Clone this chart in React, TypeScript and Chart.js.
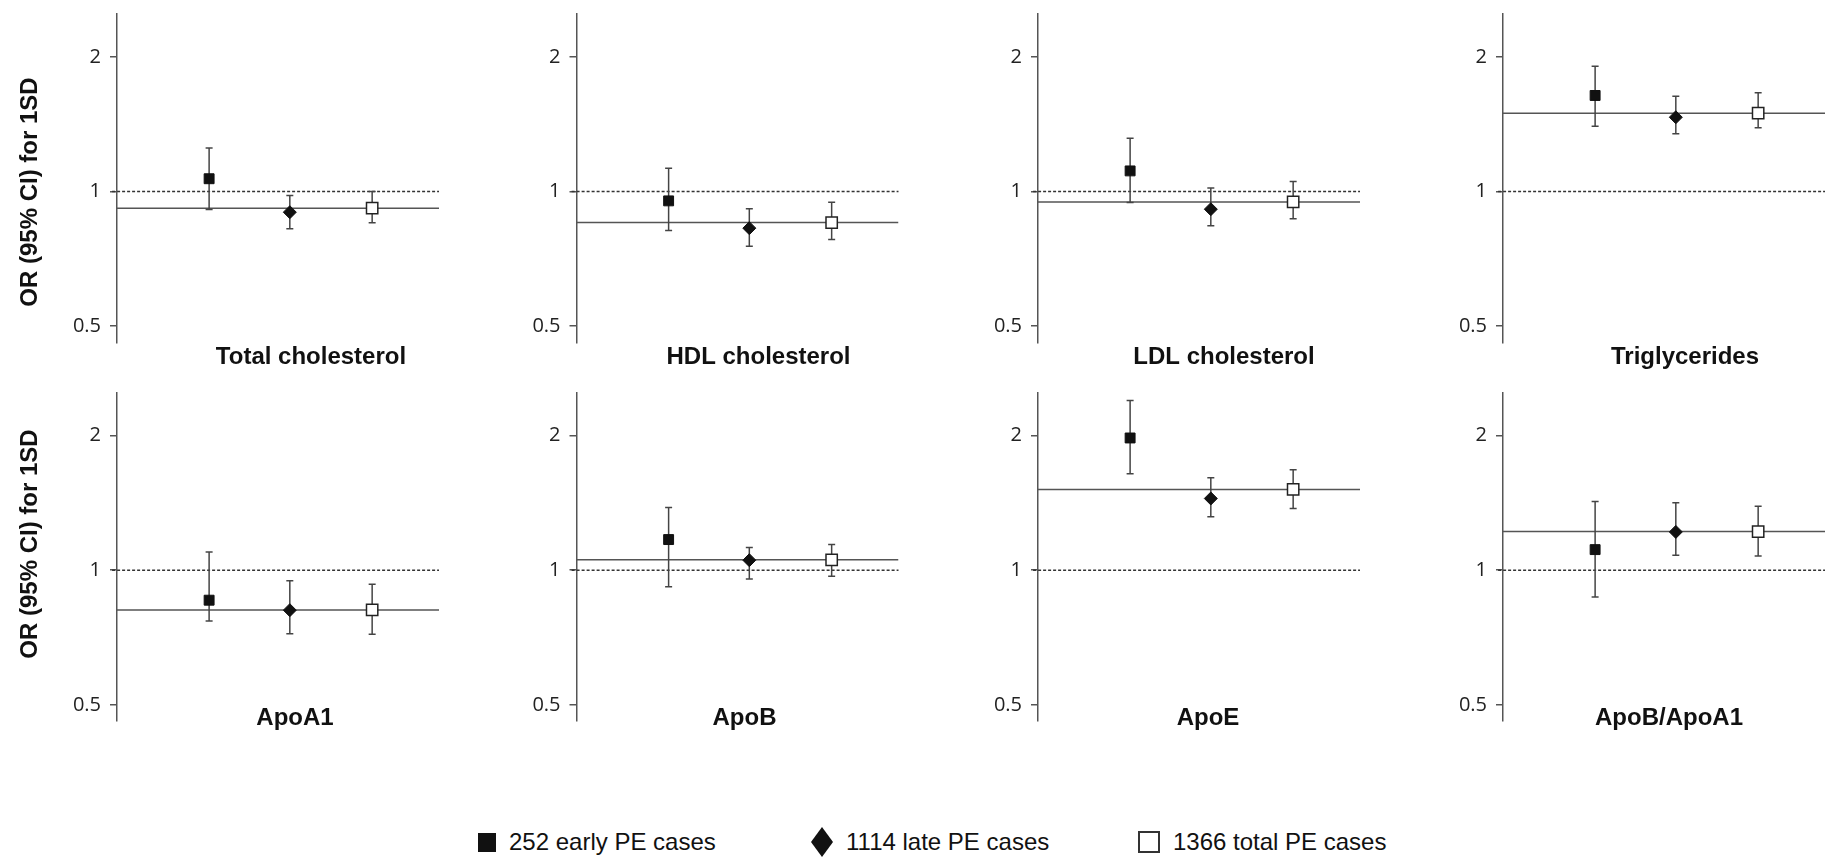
import React, { useEffect, useRef } from 'react';
import { Chart, registerables } from 'chart.js';

Chart.register(...registerables);

// ---------------- data ----------------
const panelTitles = [
  'Total cholesterol',
  'HDL cholesterol',
  'LDL cholesterol',
  'Triglycerides',
  'ApoA1',
  'ApoB',
  'ApoE',
  'ApoB/ApoA1',
];
const seriesNames = ['252 early PE cases', '1114 late PE cases', '1366 total PE cases'];
const yAxisLabel = 'OR (95% CI) for 1SD';
const yTickValues = [0.5, 1, 2];
const xPositions = [1.13, 2.12, 3.13];
const referenceOR = 1;

const earlyOR = [1.068, 0.953, 1.112, 1.64, 0.857, 1.171, 1.976, 1.112];
const earlyLow = [0.911, 0.818, 0.945, 1.4, 0.77, 0.918, 1.643, 0.871];
const earlyHigh = [1.251, 1.128, 1.316, 1.907, 1.099, 1.381, 2.398, 1.425];

const lateOR = [0.899, 0.828, 0.913, 1.466, 0.814, 1.053, 1.447, 1.218];
const lateLow = [0.825, 0.754, 0.838, 1.346, 0.721, 0.956, 1.317, 1.08];
const lateHigh = [0.98, 0.915, 1.018, 1.634, 0.947, 1.124, 1.609, 1.415];

const totalOR = [0.918, 0.852, 0.948, 1.497, 0.815, 1.055, 1.516, 1.22];
const totalLow = [0.851, 0.781, 0.869, 1.389, 0.719, 0.97, 1.375, 1.076];
const totalHigh = [1.0, 0.946, 1.053, 1.663, 0.93, 1.141, 1.677, 1.391];

// ---------------- layout ----------------
const Y_MIN = 0.46;
const Y_MAX = 2.5;
const X_MIN = 0;
const X_MAX = 3.95;
const AXIS_X = [117, 576.5, 1038, 1503];
const AREA_TOP = [13.6, 392.3];
const AREA_H = 328.7;
const AREA_W = 322;
const LEFT_SPACE = 110;
const TOP_SPACE = 30;
const Y_AXIS_W = 60;
const CANVAS_W = 442;
const CANVAS_H = 401;
const TITLE_DX = [194, 182, 186, 182, 178, 168, 170, 166];
const TITLE_DY = [15, -3];
const YLABEL_CX = 30;
const YLABEL_CY = [192, 544];

const TEXT_FONT = '"Liberation Sans", Arial, Helvetica, sans-serif';
const TICK_FONT = '"Open Sans", "Noto Sans", sans-serif';

function geom(i: number) {
  const row = Math.floor(i / 4);
  const col = i % 4;
  const axisX = AXIS_X[col];
  const areaTop = AREA_TOP[row];
  const left = Math.floor(axisX - LEFT_SPACE);
  const top = Math.floor(areaTop - TOP_SPACE);
  const padLeft = axisX - left - Y_AXIS_W;
  const padTop = areaTop - top;
  const padRight = CANVAS_W - (axisX - left) - AREA_W;
  const padBottom = CANVAS_H - padTop - AREA_H;
  return { row, col, left, top, padLeft, padTop, padRight, padBottom };
}

const panelTextPlugin = {
  id: 'panelText',
  afterDraw(chart: any, _args: any, opts: any) {
    const { ctx, chartArea } = chart;
    ctx.save();
    ctx.fillStyle = '#111';
    ctx.font = 'bold 24px ' + TEXT_FONT;
    ctx.textAlign = 'center';
    ctx.textBaseline = 'middle';
    ctx.fillText(opts.title, chartArea.left + opts.titleDx, chartArea.bottom + opts.titleDy);
    if (opts.yLabel) {
      ctx.translate(opts.yLabelX, opts.yLabelY);
      ctx.rotate(-Math.PI / 2);
      ctx.fillText(opts.yLabel, 0, 0);
    }
    ctx.restore();
  },
};

function buildConfig(i: number) {
  const g = geom(i);
  const ors = [earlyOR[i], lateOR[i], totalOR[i]];
  const lows = [earlyLow[i], lateLow[i], totalLow[i]];
  const highs = [earlyHigh[i], lateHigh[i], totalHigh[i]];
  const whiskers: any[] = [];
  xPositions.forEach((x, s) => {
    whiskers.push({ x, y: lows[s] }, { x, y: highs[s] }, { x, y: null });
  });
  const pointStyles = ['rect', 'rectRot', 'rect'];
  const radii = [7, 6.5, 8];
  const fills = ['#111', '#111', '#fff'];
  const borders = ['#111', '#111', '#222'];
  const borderWidths = [1, 1, 1.5];
  const markerSets = seriesNames.map((name, s) => ({
    label: name,
    data: [{ x: xPositions[s], y: ors[s] }],
    showLine: false,
    pointStyle: pointStyles[s],
    pointRadius: radii[s],
    pointBackgroundColor: fills[s],
    pointBorderColor: borders[s],
    pointBorderWidth: borderWidths[s],
    order: 0,
  }));
  return {
    type: 'line',
    data: {
      datasets: [
        {
          label: 'reference',
          data: [
            { x: X_MIN - 0.06, y: referenceOR },
            { x: X_MAX, y: referenceOR },
          ],
          borderColor: '#333',
          borderWidth: 1.5,
          borderDash: [3, 2],
          pointRadius: 0,
          clip: false,
          order: 4,
        },
        {
          label: 'total line',
          data: [
            { x: X_MIN, y: totalOR[i] },
            { x: X_MAX, y: totalOR[i] },
          ],
          borderColor: '#555',
          borderWidth: 1.5,
          pointRadius: 0,
          order: 3,
        },
        {
          label: '95% CI',
          data: whiskers,
          borderColor: '#444',
          borderWidth: 1.5,
          spanGaps: false,
          pointStyle: 'line',
          pointRadius: 3.5,
          pointBorderColor: '#444',
          pointBorderWidth: 1.5,
          order: 2,
        },
        ...markerSets,
      ],
    },
    options: {
      animation: false,
      responsive: false,
      events: [],
      layout: {
        padding: { left: g.padLeft, top: g.padTop, right: g.padRight, bottom: g.padBottom },
      },
      scales: {
        x: { type: 'linear', min: X_MIN, max: X_MAX, display: false },
        y: {
          type: 'logarithmic',
          min: Y_MIN,
          max: Y_MAX,
          afterBuildTicks: (scale: any) => {
            scale.ticks = yTickValues.map((v) => ({ value: v }));
          },
          afterFit: (scale: any) => {
            scale.width = Y_AXIS_W;
          },
          ticks: {
            callback: (v: any) => String(v),
            font: { family: TICK_FONT, size: 20 },
            color: '#222',
            padding: 9,
            autoSkip: false,
          },
          grid: {
            display: true,
            drawOnChartArea: false,
            drawTicks: true,
            tickLength: 7,
            color: '#555',
            lineWidth: 1.5,
          },
          border: { display: true, color: '#555', width: 1.5 },
        },
      },
      plugins: {
        legend: { display: false },
        tooltip: { enabled: false },
        panelText: {
          title: panelTitles[i],
          titleDx: TITLE_DX[i],
          titleDy: TITLE_DY[g.row],
          yLabel: g.col === 0 ? yAxisLabel : null,
          yLabelX: YLABEL_CX - g.left,
          yLabelY: YLABEL_CY[g.row] - g.top,
        },
      },
    },
    plugins: [panelTextPlugin],
  };
}

const legendLeft = [478, 811, 1138];

function LegendMarker({ s }: { s: number }) {
  if (s === 0) {
    return <div style={{ width: 18, height: 19, background: '#111' }} />;
  }
  if (s === 1) {
    return (
      <svg width={22} height={30} style={{ display: 'block' }}>
        <polygon points="11,0 22,15 11,30 0,15" fill="#111" />
      </svg>
    );
  }
  return <div style={{ width: 18, height: 18, border: '2px solid #333', background: '#fff' }} />;
}

export default function App() {
  const refs = useRef<(HTMLCanvasElement | null)[]>([]);

  useEffect(() => {
    const charts = panelTitles.map((_, i) => {
      const canvas = refs.current[i] as HTMLCanvasElement;
      return new Chart(canvas, buildConfig(i) as any);
    });
    return () => charts.forEach((c) => c.destroy());
  }, []);

  return (
    <div
      style={{
        position: 'fixed',
        left: 0,
        top: 0,
        width: 1830,
        height: 859,
        background: '#fff',
        overflow: 'hidden',
      }}
    >
      {panelTitles.map((t, i) => {
        const g = geom(i);
        return (
          <canvas
            key={t}
            ref={(el) => {
              refs.current[i] = el;
            }}
            width={CANVAS_W}
            height={CANVAS_H}
            style={{ position: 'absolute', left: g.left, top: g.top, width: CANVAS_W, height: CANVAS_H }}
          />
        );
      })}
      {seriesNames.map((name, s) => (
        <div
          key={name}
          style={{
            position: 'absolute',
            left: legendLeft[s],
            top: 842,
            transform: 'translateY(-50%)',
            display: 'flex',
            alignItems: 'center',
            gap: 13,
            fontFamily: TEXT_FONT,
            fontSize: 24,
            color: '#111',
            whiteSpace: 'nowrap',
            lineHeight: 1,
          }}
        >
          <LegendMarker s={s} />
          <span>{name}</span>
        </div>
      ))}
    </div>
  );
}
